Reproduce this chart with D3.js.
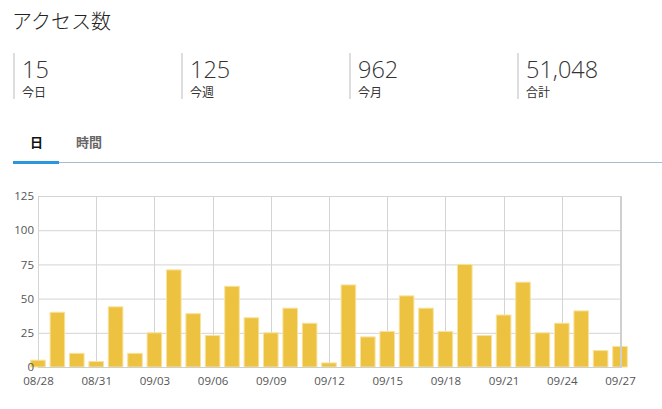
<!DOCTYPE html>
<html>
<head>
<meta charset="utf-8">
<script src="https://cdn.jsdelivr.net/npm/d3@7"></script>
<style>
  html, body { margin: 0; padding: 0; background: #fff; }
  svg { display: block; font-family: "Open Sans", "Noto Sans CJK JP", sans-serif; }
</style>
</head>
<body>
<svg id="page" width="662" height="409"></svg>
<script>
// daily access counts, 08/28 .. 09/27
const days = ['08/28','08/29','08/30','08/31','09/01','09/02','09/03','09/04','09/05','09/06',
              '09/07','09/08','09/09','09/10','09/11','09/12','09/13','09/14','09/15','09/16',
              '09/17','09/18','09/19','09/20','09/21','09/22','09/23','09/24','09/25','09/26','09/27'];
const visits = [5, 40, 10, 4, 44, 10, 25, 71, 39, 23,
                59, 36, 25, 43, 32, 3, 60, 22, 26, 52,
                43, 26, 75, 23, 38, 62, 25, 32, 41, 12, 15];
const tickDays = ['08/28','08/31','09/03','09/06','09/09','09/12','09/15','09/18','09/21','09/24','09/27'];
const yTicks = [0, 25, 50, 75, 100, 125];

// summary boxes
const statLabels = ['今日', '今週', '今月', '合計'];
const statValues = [15, 125, 962, 51048];
const tabs = ['日', '時間'];

const svg = d3.select('#page');

// title
svg.append('text')
   .attr('x', 12).attr('y', 29)
   .attr('font-size', 20)
   .attr('font-weight', 300)
   .attr('fill', '#222')
   .text('アクセス数');

// stats row
const stat = svg.selectAll('.stat')
                .data(statValues)
                .enter()
                .append('g')
                .attr('class', 'stat')
                .attr('transform', (d, i) => `translate(${13 + i * 168},0)`);
stat.append('rect')
    .attr('x', 0).attr('y', 53).attr('width', 2).attr('height', 46)
    .attr('fill', '#ddd');
stat.append('text')
    .attr('x', 9).attr('y', 78)
    .attr('font-size', 23.5)
    .attr('font-weight', 300)
    .attr('fill', '#333')
    .text(d => d3.format(',')(d));
stat.append('text')
    .attr('x', 9).attr('y', 97)
    .attr('font-size', 12)
    .attr('fill', '#333')
    .text((d, i) => statLabels[i]);

// tabs
svg.selectAll('.tab')
   .data(tabs)
   .enter()
   .append('text')
   .attr('class', 'tab')
   .attr('x', (d, i) => i === 0 ? 30 : 76)
   .attr('y', 147)
   .attr('font-size', 13)
   .attr('font-weight', 700)
   .attr('fill', (d, i) => i === 0 ? '#111' : '#666')
   .text(d => d);
svg.append('rect').attr('x', 13).attr('y', 162).attr('width', 649).attr('height', 1).attr('fill', '#a9bccb');
svg.append('rect').attr('x', 13).attr('y', 161).attr('width', 46).attr('height', 3).attr('fill', '#2b95e0');

// chart
const pLeft = 38, pRight = 620, pTop = 196, pBottom = 367;

const x = d3.scalePoint()
            .domain(days)
            .range([pLeft, pRight]);
const y = d3.scaleLinear()
            .domain([0, 125])
            .range([pBottom, pTop]);

const chart = svg.append('g');

// horizontal grid
chart.selectAll('.hgrid')
     .data(yTicks)
     .enter()
     .append('line')
     .attr('x1', pLeft).attr('x2', pRight)
     .attr('y1', d => y(d) + 0.5).attr('y2', d => y(d) + 0.5)
     .attr('stroke', '#d4d4d4');

// vertical grid
chart.selectAll('.vgrid')
     .data(tickDays)
     .enter()
     .append('line')
     .attr('x1', d => Math.round(x(d)) + 0.5).attr('x2', d => Math.round(x(d)) + 0.5)
     .attr('y1', pTop).attr('y2', pBottom)
     .attr('stroke', '#d4d4d4');

// bars
const barW = 14.6;
chart.selectAll('.bar')
     .data(visits)
     .enter()
     .append('rect')
     .attr('class', 'bar')
     .attr('x', (d, i) => x(days[i]) - barW / 2)
     .attr('y', d => y(d))
     .attr('width', barW)
     .attr('height', d => pBottom - y(d))
     .attr('fill', '#edc240')
     .attr('stroke', '#f7e3a0')
     .attr('stroke-width', 1);

// frame right & bottom
chart.append('line')
     .attr('x1', pRight + 1).attr('x2', pRight + 1).attr('y1', pTop).attr('y2', pBottom)
     .attr('stroke', '#cfcfcf').attr('stroke-width', 2);
chart.append('line')
     .attr('x1', pLeft).attr('x2', pRight + 2).attr('y1', pBottom + 0.5).attr('y2', pBottom + 0.5)
     .attr('stroke', '#cfcfcf');

// axes
const yAxis = d3.axisLeft(y).tickValues(yTicks).tickSize(0).tickPadding(4);
const xAxis = d3.axisBottom(x).tickValues(tickDays).tickSize(0).tickPadding(10);

const ya = chart.append('g').attr('transform', `translate(${pLeft},0)`).call(yAxis);
const xa = chart.append('g').attr('transform', `translate(0,${pBottom})`).call(xAxis);
[ya, xa].forEach(a => {
  a.select('.domain').remove();
  a.selectAll('text')
   .attr('font-family', '"Open Sans", sans-serif')
   .attr('font-size', 11.5)
   .attr('fill', '#555');
});
</script>
</body>
</html>
